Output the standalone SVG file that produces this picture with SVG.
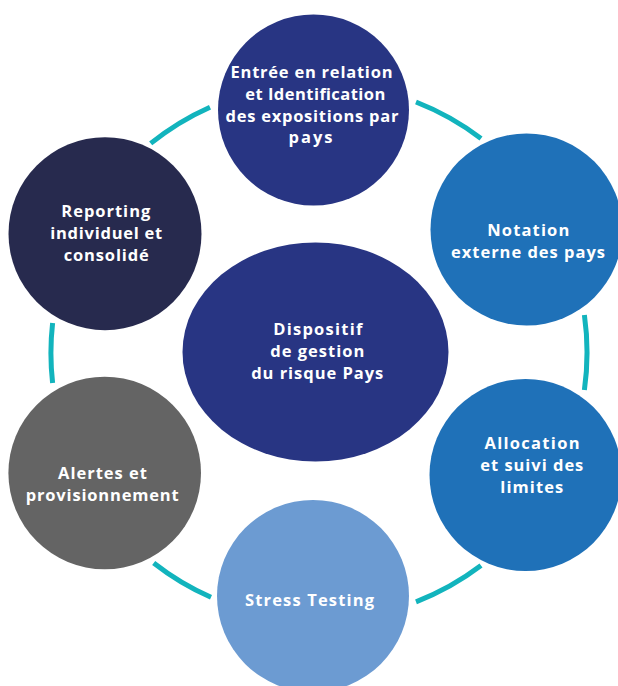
<svg xmlns="http://www.w3.org/2000/svg" width="618" height="686" viewBox="0 0 618 686">
<style>
.ring{fill:none;stroke:#12b4bd;stroke-width:5;stroke-linecap:butt}
.t{font-family:"Open Sans","Liberation Sans",sans-serif;font-weight:700;font-size:16.5px;fill:#ffffff;text-anchor:middle}
</style>
<rect width="618" height="686" fill="#ffffff"/>
<g id="connectors">
<path class="ring" d="M150.7 143.4 A268 268 0 0 1 210 107.2"/>
<path class="ring" d="M416 102 A268 268 0 0 1 481 138.5"/>
<path class="ring" d="M584.4 315 A268 268 0 0 1 584.4 390"/>
<path class="ring" d="M481 565.5 A268 268 0 0 1 416 601.8"/>
<path class="ring" d="M211 597.3 A268 268 0 0 1 153.7 563"/>
<path class="ring" d="M52.6 383 A268 268 0 0 1 52.6 323"/>
</g>
<g id="node-entree">
<circle cx="313.5" cy="110" r="95.5" fill="#283583"/>
<text class="t" x="311.5" y="78.3" textLength="162">Entrée en relation</text>
<text class="t" x="315.3" y="100" textLength="140">et Identification</text>
<text class="t" x="312" y="121.7" textLength="173">des expositions par</text>
<text class="t" x="310.5" y="143" textLength="44">pays</text>
</g>
<g id="node-reporting">
<circle cx="105" cy="233.7" r="96.5" fill="#272a4e"/>
<text class="t" x="105.8" y="217.3" textLength="89">Reporting</text>
<text class="t" x="106.2" y="239" textLength="112">individuel et</text>
<text class="t" x="106.2" y="260.7" textLength="85">consolidé</text>
</g>
<g id="node-notation">
<circle cx="526.5" cy="229.5" r="96" fill="#1f71b8"/>
<text class="t" x="528.3" y="236" textLength="82">Notation</text>
<text class="t" x="528" y="257.7" textLength="154">externe des pays</text>
</g>
<g id="node-dispositif">
<ellipse cx="315.5" cy="352" rx="133" ry="109.5" fill="#283583"/>
<text class="t" x="317.8" y="335" textLength="89">Dispositif</text>
<text class="t" x="317.3" y="356.7" textLength="94">de gestion</text>
<text class="t" x="317.2" y="379" textLength="132">du risque Pays</text>
</g>
<g id="node-allocation">
<circle cx="525.5" cy="475" r="96" fill="#1f71b8"/>
<text class="t" x="532" y="449" textLength="95">Allocation</text>
<text class="t" x="531.8" y="470.7" textLength="103">et suivi des</text>
<text class="t" x="531.8" y="493.3" textLength="63">limites</text>
</g>
<g id="node-alertes">
<circle cx="104.7" cy="473" r="96.3" fill="#646464"/>
<text class="t" x="102.5" y="479.3" textLength="89">Alertes et</text>
<text class="t" x="102.2" y="500.7" textLength="153">provisionnement</text>
</g>
<g id="node-stress">
<circle cx="313" cy="596" r="96" fill="#6c9bd2"/>
<text class="t" x="309.5" y="606" textLength="129">Stress Testing</text>
</g>
</svg>
